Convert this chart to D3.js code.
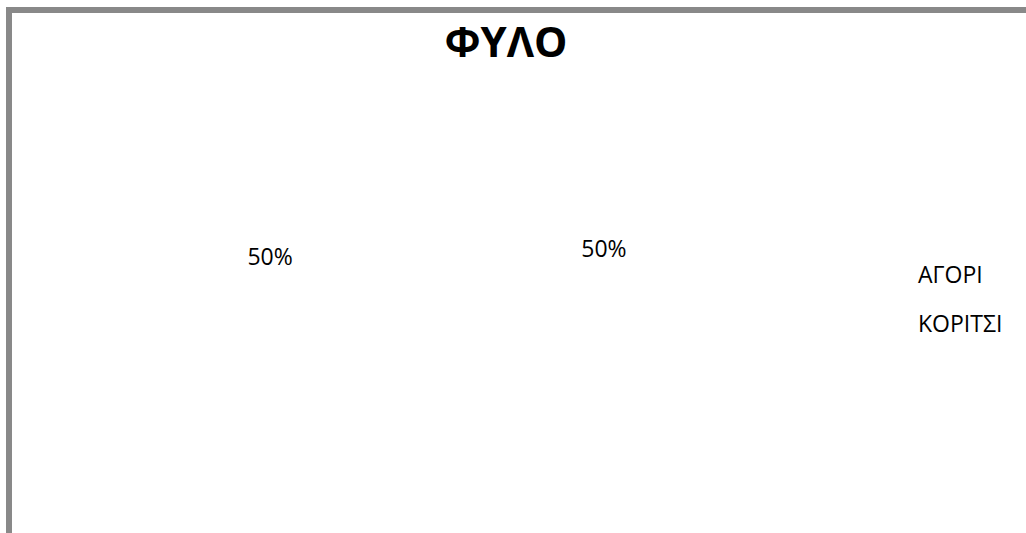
<!DOCTYPE html>
<html>
<head>
<meta charset="utf-8">
<script src="https://cdn.jsdelivr.net/npm/d3@7"></script>
<style>
  html, body { margin: 0; padding: 0; background: #fff; }
  svg { display: block; }
  text { font-family: "Open Sans", "Noto Sans", sans-serif; fill: #000; }
</style>
</head>
<body>
<svg id="chart" width="1026" height="533"></svg>
<script>
// Gender split
const categories = ["ΑΓΟΡΙ", "ΚΟΡΙΤΣΙ"];
const values = [50, 50];
const title = "ΦΥΛΟ";

const svg = d3.select("#chart");
const W = 1026, H = 533;

const cx = 437, cy = 253, r = 200;
const total = d3.sum(values);
const pie = d3.pie().sort(null).startAngle(-0.024).endAngle(2 * Math.PI - 0.024);
const arcs = pie(values);
const arc = d3.arc().innerRadius(0).outerRadius(r);
const labelArc = d3.arc().innerRadius(334).outerRadius(0);

const g = svg.append("g").attr("transform", `translate(${cx},${cy})`);

// slices (white fill, no outline)
g.selectAll("path.slice")
  .data(arcs)
  .join("path")
  .attr("class", "slice")
  .attr("d", arc)
  .attr("fill", "#fff")
  .attr("stroke", "none");

g.selectAll("text.pct")
  .data(arcs)
  .join("text")
  .attr("class", "pct")
  .attr("transform", d => {
    const [x, y] = labelArc.centroid(d);
    return `translate(${x},${y})`;
  })
  .attr("text-anchor", "middle")
  .attr("dy", "0.35em")
  .attr("font-size", 23)
  .text(d => d3.format(".0%")(d.data / total));

// chart frame
svg.append("rect")
  .attr("x", 9).attr("y", 10)
  .attr("width", W + 20).attr("height", H + 20)
  .attr("fill", "none")
  .attr("stroke", "#898989")
  .attr("stroke-width", 6);

svg.append("text")
  .attr("x", 506).attr("y", 57)
  .attr("text-anchor", "middle")
  .attr("font-family", "'Liberation Sans', Arial, sans-serif")
  .attr("font-size", 42)
  .attr("font-weight", "bold")
  .text(title);

// legend
const legend = svg.append("g");
legend.selectAll("text")
  .data(categories)
  .join("text")
  .attr("x", 918)
  .attr("y", (d, i) => 283 + i * 49)
  .attr("font-size", 23)
  .text(d => d);
</script>
</body>
</html>
